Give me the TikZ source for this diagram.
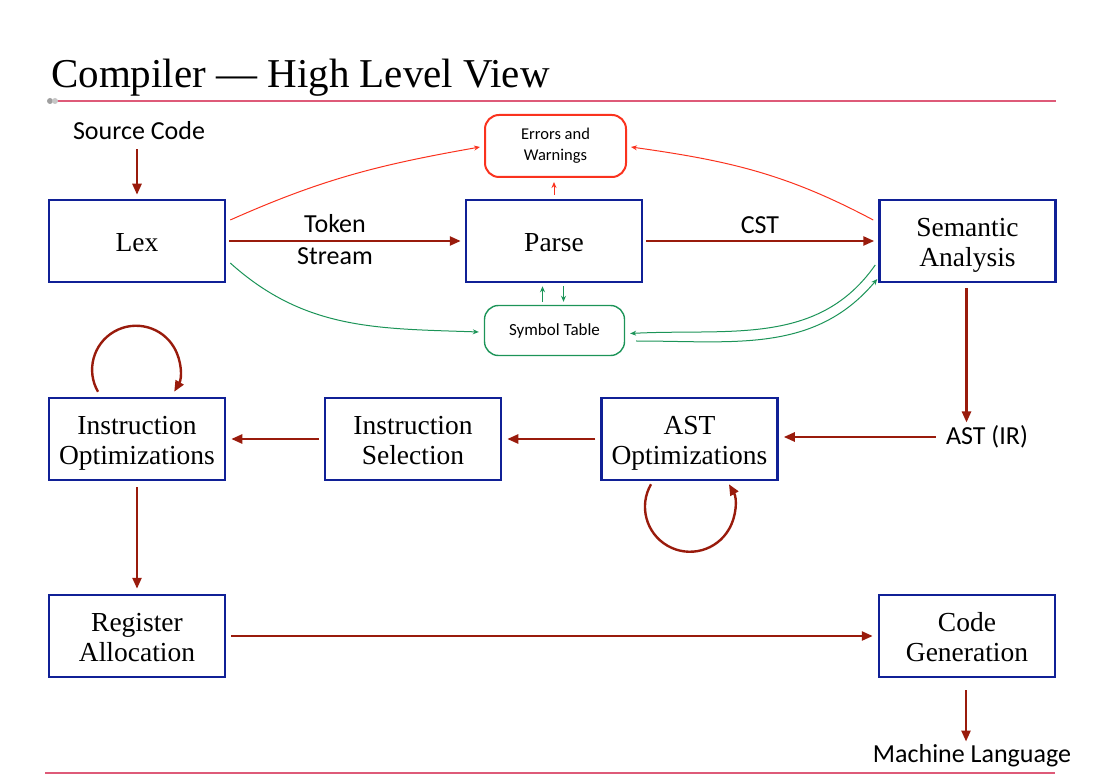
\documentclass[tikz,border=0pt]{standalone}
\usepackage{fontspec}
\setmainfont{Liberation Serif}
\newfontfamily\calfont{Carlito}
\usetikzlibrary{arrows.meta,calc}
\definecolor{navy}{RGB}{16,32,150}
\definecolor{darkred}{RGB}{153,27,12}
\definecolor{errred}{RGB}{250,50,30}
\definecolor{symgreen}{RGB}{28,148,88}
\definecolor{rulepink}{RGB}{222,90,120}
\newcommand\twostrut{\rule{0pt}{27pt}}
\newcommand\lastdepth{\rule[-6.2pt]{0pt}{6.2pt}}
\newcommand\onestrut{\rule{0pt}{22pt}}
\begin{document}
\begin{tikzpicture}[x=1pt,y=1pt,
  box/.style={draw=navy,line width=2.5pt,minimum width=176pt,minimum height=82pt,inner sep=0pt,align=center,font=\fontsize{27.5}{30}\selectfont},
  lbl/.style={inner sep=0pt,align=center,font=\calfont\fontsize{26}{32}\selectfont},
  errbox/.style={draw=errred,line width=2pt,rounded corners=14pt,minimum width=141pt,minimum height=62pt,inner sep=0pt,align=center,font=\calfont\fontsize{16.5}{21}\selectfont},
  symbox/.style={draw=symgreen,line width=1.4pt,rounded corners=14pt,minimum width=140pt,minimum height=50pt,inner sep=0pt,align=center,font=\calfont\fontsize{17}{21}\selectfont},
  flow/.style={draw=darkred,line width=2.4pt,-{Triangle[length=11pt,width=9pt]}},
  errarr/.style={draw=errred,line width=1pt,-{Stealth[length=6pt,width=5pt]}},
  symarr/.style={draw=symgreen,line width=1pt,-{Stealth[length=6pt,width=5pt]}}
]
\useasboundingbox (0,0) rectangle (1105,780);

% title and rules
\node[anchor=west,inner sep=0pt,font=\fontsize{41}{48}\selectfont] (title) at (51,702) {Compiler — High Level View};
\draw[rulepink,line width=1.1pt] (50,679) -- (1056,679);
\draw[rulepink,line width=1.1pt] (45,7) -- (1055,7);
\fill[gray!75] (50,679) circle (3pt);
\fill[gray!45] (55,679) circle (3pt);

% boxes
\node[box] (lex) at (137,539) {\onestrut Lex};
\node[box] (parse) at (554,539) {\onestrut Parse};
\node[box] (sem) at (967.5,539) {\twostrut Semantic\\Analysis\lastdepth};
\node[box] (io) at (137,341) {\twostrut Instruction\\Optimizations\lastdepth};
\node[box] (is) at (413,341) {\twostrut Instruction\\Selection\lastdepth};
\node[box] (ao) at (689.5,341) {\twostrut AST\\Optimizations\lastdepth};
\node[box] (ra) at (137,144) {\twostrut Register\\Allocation\lastdepth};
\node[box] (cg) at (967,144) {\twostrut Code\\Generation\lastdepth};
\node[errbox] (err) at (555.5,634) {Errors and\\Warnings};
\node[symbox] (sym) at (554.5,449.5) {Symbol Table};

% free labels
\node[lbl] (src) at (139,649) {Source Code};
\node[lbl] (ts) at (335,540) {Token\\Stream};
\node[lbl] (cst) at (760,555) {CST};
\node[lbl] (astir) at (987,343) {AST (IR)};
\node[lbl] (ml) at (972,24) {Machine Language};

% main flow
\draw[flow,shorten <=9pt,shorten >=4pt] (lex.north |- src.south) -- (lex.north);
\draw[flow,shorten <=3pt,shorten >=4pt] (lex.east) -- (parse.west);
\draw[flow,shorten <=3pt,shorten >=4pt] (parse.east) -- (sem.west);
\draw[flow,shorten <=5pt,shorten >=3pt] ([xshift=-1pt]sem.south) -- ([xshift=-1pt]sem.south |- astir.north);
\draw[flow,shorten <=10pt,shorten >=5pt] (astir.west) -- (astir.west -| ao.east);
\draw[flow,shorten <=5pt,shorten >=5pt] (ao.west) -- (is.east);
\draw[flow,shorten <=5pt,shorten >=5pt] (is.west) -- (io.east);
\draw[flow,shorten <=6pt,shorten >=5pt] (io.south) -- (ra.north);
\draw[flow,shorten <=5pt,shorten >=5pt] (ra.east) -- (cg.west);
\draw[flow,shorten <=12pt,shorten >=3pt] ([xshift=-1pt]cg.south) -- ([xshift=-1pt]cg.south |- ml.north);

% self loops
\draw[flow] ([xshift=-39pt,yshift=5pt]io.north) arc[start angle=210,end angle=-30,radius=44pt];
\draw[flow] ([xshift=-38.5pt,yshift=-3pt]ao.south) arc[start angle=150,end angle=390,radius=45pt];

% errors and warnings
\draw[errarr] ([xshift=4pt,yshift=21pt]lex.east) to[out=24,in=190] ([xshift=-4pt,yshift=-1pt]err.west);
\draw[errarr] ([xshift=-5pt,yshift=21pt]sem.west) to[out=152,in=-8] ([xshift=4pt,yshift=-1pt]err.east);
\draw[errarr,shorten <=4pt,shorten >=4pt] (parse.north) -- (parse.north |- err.south);

% symbol table
\draw[symarr] ([xshift=4pt,yshift=-22pt]lex.east) to[out=-42,in=178] ([xshift=-5pt,yshift=-1.5pt]sym.west);
\draw[symarr] ([xshift=-3pt,yshift=-24pt]sem.west) to[out=-125,in=3] ([xshift=5pt,yshift=-3pt]sym.east);
\draw[symarr] ([xshift=11pt,yshift=-10.5pt]sym.east) to[out=0,in=-130] ([xshift=-1pt,yshift=-38pt]sem.west);
\draw[symarr,shorten <=3pt,shorten >=3pt] ([xshift=-12pt]sym.north) -- ([xshift=-12pt]sym.north |- parse.south);
\draw[symarr,shorten <=3pt,shorten >=3pt] ([xshift=9pt]sym.north |- parse.south) -- ([xshift=9pt]sym.north);
\end{tikzpicture}
\end{document}
